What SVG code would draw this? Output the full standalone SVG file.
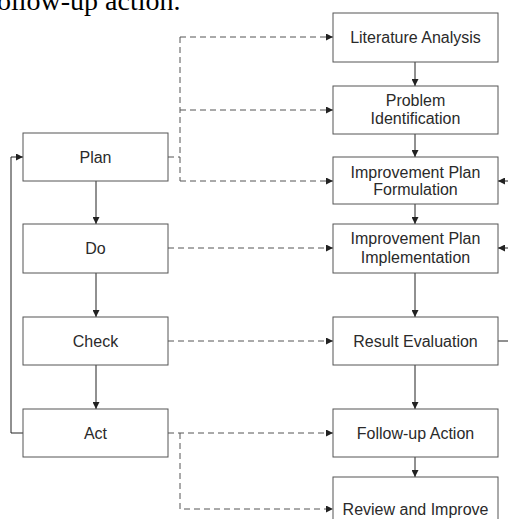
<svg xmlns="http://www.w3.org/2000/svg" width="508" height="519" viewBox="0 0 508 519">
<style>
.box{fill:#fff;stroke:#555;stroke-width:1}
.t{font-family:"Liberation Sans",Arial,sans-serif;font-size:16px;fill:#2a2a2a;text-anchor:middle}
.s{fill:none;stroke:#222;stroke-width:1}
.d{fill:none;stroke:#555;stroke-width:1;stroke-dasharray:6,4}
</style>
<defs>
<marker id="ah" viewBox="0 0 8 8" refX="8" refY="4" markerWidth="7" markerHeight="7" orient="auto" markerUnits="userSpaceOnUse">
<path d="M0,0L8,4L0,8z" fill="#222"/>
</marker>
</defs>
<rect width="508" height="519" fill="#fff"/>
<text x="-3" y="10" font-family="Liberation Serif,Times New Roman,serif" font-size="28" fill="#000">ollow-up action.</text>
<g id="connectors">
<path class="s" d="M415,62V86" marker-end="url(#ah)"/>
<path class="s" d="M415,134V157" marker-end="url(#ah)"/>
<path class="s" d="M415,204V224" marker-end="url(#ah)"/>
<path class="s" d="M415,273V317" marker-end="url(#ah)"/>
<path class="s" d="M415,365V409" marker-end="url(#ah)"/>
<path class="s" d="M415,457V477" marker-end="url(#ah)"/>
<path class="s" d="M96,181V224" marker-end="url(#ah)"/>
<path class="s" d="M96,273V317" marker-end="url(#ah)"/>
<path class="s" d="M96,365V409" marker-end="url(#ah)"/>
<path class="s" d="M23,433H11V157H23" marker-end="url(#ah)"/>
<path class="d" d="M168,157H180"/>
<path class="d" d="M180,37V181"/>
<path class="d" d="M180,37H333" marker-end="url(#ah)"/>
<path class="d" d="M180,110H333" marker-end="url(#ah)"/>
<path class="d" d="M180,181H333" marker-end="url(#ah)"/>
<path class="d" d="M168,248H333" marker-end="url(#ah)"/>
<path class="d" d="M168,341H333" marker-end="url(#ah)"/>
<path class="d" d="M168,433H333" marker-end="url(#ah)"/>
<path class="d" d="M180,433V509H333" marker-end="url(#ah)"/>
<path class="s" d="M508,181H498" marker-end="url(#ah)"/>
<path class="s" d="M508,248H498" marker-end="url(#ah)"/>
<path class="s" d="M498,341H508"/>
</g>
<g id="plan"><rect class="box" x="23" y="133" width="145" height="48"/><text class="t" x="95.5" y="162.5">Plan</text></g>
<g id="do"><rect class="box" x="23" y="224" width="145" height="49"/><text class="t" x="95.5" y="254">Do</text></g>
<g id="check"><rect class="box" x="23" y="317" width="145" height="48"/><text class="t" x="95.5" y="346.5">Check</text></g>
<g id="act"><rect class="box" x="23" y="409" width="145" height="48"/><text class="t" x="95.5" y="438.5">Act</text></g>
<g id="literature"><rect class="box" x="333" y="13" width="165" height="49"/><text class="t" x="415.5" y="42.5">Literature Analysis</text></g>
<g id="problem"><rect class="box" x="333" y="86" width="165" height="48"/><text class="t" x="415.5" y="106">Problem</text><text class="t" x="415.5" y="124">Identification</text></g>
<g id="formulation"><rect class="box" x="333" y="157" width="165" height="47"/><text class="t" x="415.5" y="177.5">Improvement Plan</text><text class="t" x="415.5" y="195">Formulation</text></g>
<g id="implementation"><rect class="box" x="333" y="224" width="165" height="49"/><text class="t" x="415.5" y="243.5">Improvement Plan</text><text class="t" x="415.5" y="262.5">Implementation</text></g>
<g id="result"><rect class="box" x="333" y="317" width="165" height="48"/><text class="t" x="415.5" y="346.5">Result Evaluation</text></g>
<g id="followup"><rect class="box" x="333" y="409" width="165" height="48"/><text class="t" x="415.5" y="438.5">Follow-up Action</text></g>
<g id="review"><rect class="box" x="333" y="477" width="165" height="60"/><text class="t" x="415.5" y="514.5">Review and Improve</text></g>
</svg>
